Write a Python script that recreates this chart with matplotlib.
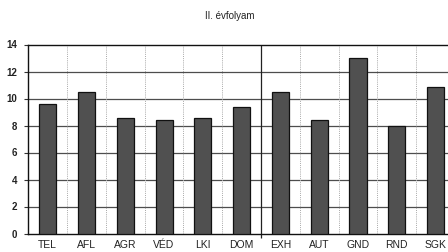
import matplotlib
matplotlib.use("Agg")
import matplotlib.pyplot as plt
from matplotlib import font_manager as fm
import numpy as np

categories = ["TEL", "AFL", "AGR", "VÉD", "LKI", "DOM", "EXH", "AUT", "GND", "RND", "SGK"]
values = [9.6, 10.5, 8.55, 8.4, 8.55, 9.4, 10.45, 8.4, 13.0, 7.95, 10.85]
title = "II. évfolyam"

reg = None
bold = None
for f in fm.findSystemFonts():
    n = f.split("/")[-1]
    if n == "LiberationSans-Regular.ttf":
        reg = f
    if n == "LiberationSans-Bold.ttf":
        bold = f
fp = fm.FontProperties(fname=reg) if reg else fm.FontProperties(family="Noto Sans")
fpb = fm.FontProperties(fname=bold) if bold else fm.FontProperties(family="Noto Sans", weight="bold")

fig = plt.figure(figsize=(4.48, 2.52), dpi=100)
W, H = 448, 252
left, right = 28.3, 455.0
top, bottom = 44.5, 233.5
ax = fig.add_axes([left / W, 1 - bottom / H, (right - left) / W, (bottom - top) / H])

x = np.arange(len(categories))
ax.set_xlim(-0.5, len(categories) - 0.5)
ax.set_ylim(0, 14)

for yv in range(2, 14, 2):
    ax.axhline(yv, color="#4d4d4d", lw=0.9, zorder=1)
for b in range(1, len(categories)):
    if b == 6:
        ax.axvline(b - 0.5, color="#222222", lw=0.9, zorder=1)
    else:
        ax.axvline(b - 0.5, color="#a8a8a8", lw=0.7, ls=(0, (1, 1.2)), zorder=1)

ax.bar(x, values, width=0.44, color="#505050", edgecolor="#111111", linewidth=0.9, zorder=3)

for s in ["left", "bottom", "top"]:
    ax.spines[s].set_color("#111111")
    ax.spines[s].set_linewidth(1.0)
ax.spines["right"].set_visible(False)

ax.set_yticks(range(0, 15, 2))
ax.set_yticklabels([str(v) for v in range(0, 15, 2)])
for t in ax.get_yticklabels():
    t.set_fontproperties(fpb)
    t.set_fontsize(7)
    t.set_color("#222222")
ax.tick_params(axis="y", length=3, width=0.8, pad=5, color="#333333")
ax.set_xticks(x)
ax.set_xticklabels(categories)
for t in ax.get_xticklabels():
    t.set_fontproperties(fp)
    t.set_fontsize(7.5)
    t.set_color("#222222")
ax.tick_params(axis="x", which="major", length=0, pad=5)
ax.set_xticks([5.5], minor=True)
ax.tick_params(axis="x", which="minor", length=3, width=0.9, color="#222222")

fig.text(230 / W, 1 - 16 / H, title, ha="center", va="center", fontproperties=fp, fontsize=7, color="#222222")

fig.savefig("out.png", dpi=100)
